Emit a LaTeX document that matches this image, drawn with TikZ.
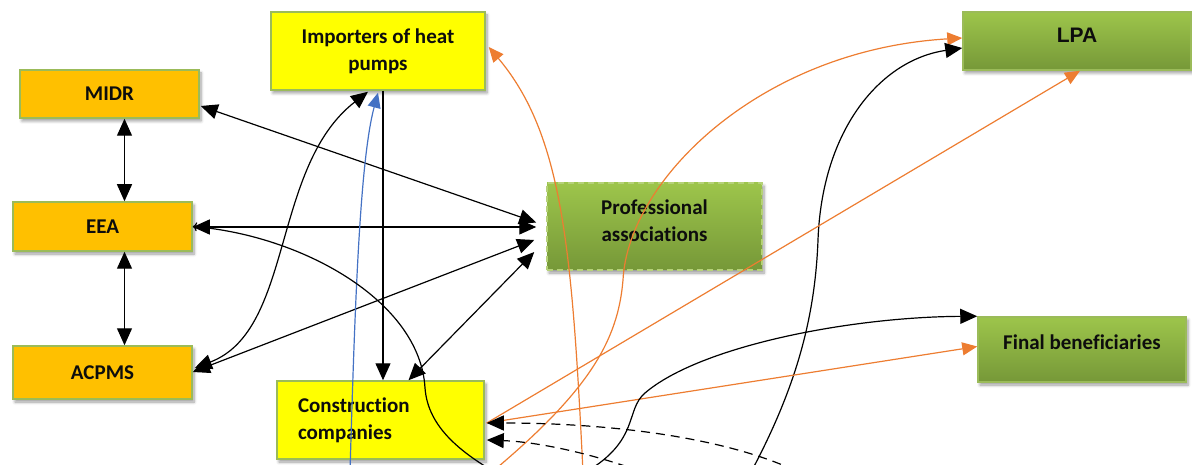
\documentclass[tikz,border=0pt]{standalone}
\usepackage{fontspec}
\setmainfont{Carlito}[RawFeature=-liga]
\newfontfamily\arialfont{Liberation Sans}
\usetikzlibrary{arrows.meta,calc,shadows.blur}
\definecolor{amber}{RGB}{255,192,0}
\definecolor{lemon}{RGB}{255,255,0}
\definecolor{leafedge}{RGB}{155,187,89}
\definecolor{leafdash}{RGB}{181,209,120}
\definecolor{leaftop}{RGB}{157,197,75}
\definecolor{leafbot}{RGB}{118,152,56}
\definecolor{orangeline}{RGB}{237,125,49}
\definecolor{blueline}{RGB}{68,114,196}
\begin{document}
\begin{tikzpicture}[x=1pt,y=-1pt,
  box/.style={draw=leafedge, line width=1.5pt, inner sep=0pt,
    blur shadow={shadow xshift=2pt, shadow yshift=-3pt, shadow blur radius=3pt, shadow blur steps=6, shadow opacity=40},
    font=\fontsize{21}{27}\selectfont\bfseries, text=black!95},
  amberbox/.style={box, fill=amber},
  lemonbox/.style={box, fill=lemon},
  leafbox/.style={box, top color=leaftop, bottom color=leafbot},
  lbl/.style={font=\fontsize{21}{27}\selectfont\bfseries, text=black!95, align=center, inner sep=0pt},
  one/.style={draw=black, line width=1.2pt, -{Triangle[length=17pt,width=15pt]}},
  two/.style={draw=black, line width=1.2pt, {Triangle[length=17pt,width=15pt]}-{Triangle[length=17pt,width=15pt]}},
  dash1/.style={one, dash pattern=on 9pt off 6pt},
  orng/.style={draw=orangeline, line width=1.2pt, -{Triangle[length=15pt,width=13pt]}},
  blu/.style={draw=blueline, line width=1.2pt, -{Triangle[length=15pt,width=13pt]}},
]
\useasboundingbox (0,0) rectangle (1192,465);
\clip (0,0) rectangle (1192,465);

% actors
\node[amberbox, minimum width=179pt, minimum height=48pt] (midr) at (109.5,94) {MIDR};
\node[amberbox, minimum width=179pt, minimum height=49pt] (eea) at (102.5,226.5) {EEA};
\node[amberbox, minimum width=179pt, minimum height=53pt] (acpms) at (102.5,372.5) {ACPMS};
\node[lemonbox, minimum width=214pt, minimum height=78pt, align=center] (imp) at (378,51) {Importers of heat\\pumps};
\node[lemonbox, minimum width=207pt, minimum height=78pt, text width=165pt, align=left] (cc) at (380.5,420) {Construction\\companies};
\node[leafbox, draw=leafdash, dash pattern=on 6pt off 4pt, minimum width=215pt, minimum height=87pt] (pa) at (654.5,226.5) {};
\node[lbl] (pa-t) at (654.5,221) {Professional\\associations};
\node[leafbox, minimum width=228pt, minimum height=58pt] (lpa) at (1077,41) {};
\node[lbl, font=\fontsize{21}{27}\selectfont\bfseries\arialfont] (lpa-t) at (1077,35.5) {LPA};
\node[leafbox, minimum width=208pt, minimum height=65pt] (fb) at (1082,349.5) {};
\node[lbl] (fb-t) at (1082,342) {Final beneficiaries};

% loose ends below the frame
\coordinate (b-blue) at (350,472);
\coordinate (b-eea) at (505,478);
\coordinate (b-imp) at (583,472);
\coordinate (b-lpa1) at (492,472);
\coordinate (b-fb) at (586,472);
\coordinate (b-lpa2) at (750,474);
\coordinate (b-d1) at (808,477);
\coordinate (b-d2) at (655,477);

% ministries column
\draw[two] ($(midr.south)+(15,0)$) -- ($(eea.north)+(22,0)$);
\draw[two] ($(eea.south)+(22,0)$) -- ($(acpms.north)+(22,0)$);

% links to the professional associations
\draw[two] ($(midr.east)+(1,12)$) -- ($(pa.west)+(-10,-4)$);
\draw[two] ($(eea.east)+(0,0.5)$) -- ($(pa.west)+(-10,0.5)$);
\draw[two] ($(acpms.east)+(0,-0.5)$) -- ($(pa.west)+(-12,13.5)$);
\draw[two] ($(cc.north)+(28,0)$) -- ($(pa.west)+(-12,25.5)$);

% importers
\draw[one] ($(imp.south)+(5,0)$) -- ($(cc.north)+(2.5,0)$);
\draw[two] ($(acpms.east)+(2,-4.5)$) .. controls (294,330) and (271,167) .. ($(imp.south)+(-10,1)$);
\draw[blu] (b-blue) .. controls (355,300) and (360,160) .. ($(imp.south)+(0,2)$);
\draw[orng] (b-imp) .. controls (572,250) and (563,135) .. ($(imp.east)+(3,-4)$);

% long curve from EEA
\draw[one, <-] (eea.east) .. controls (300,235) and (420,300) .. (425,388)
  .. controls (428,428) and (462,454) .. (b-eea);

% towards the local authority
\draw[orng] (b-lpa1) .. controls (590,390) and (618,340) .. (623,280)
  .. controls (628,180) and (760,50) .. ($(lpa.west)+(0,-3)$);
\draw[one] (b-lpa2) .. controls (795,390) and (815,320) .. (818,240)
  .. controls (822,130) and (880,60) .. ($(lpa.west)+(0,7)$);
\draw[orng] ($(cc.east)+(2,3)$) -- ($(lpa.south)+(3,0)$);

% towards the final beneficiaries
\draw[orng] ($(cc.east)+(2,3)$) -- ($(fb.west)+(0,-3)$);
\draw[one] (b-fb) .. controls (640,440) and (625,410) .. (645,393)
  .. controls (700,346) and (850,317) .. (fb.north west);

% dashed inflows into construction companies
\draw[dash1] (b-d1) .. controls (740,440) and (620,423) .. ($(cc.east)+(2,3)$);
\draw[dash1] (b-d2) .. controls (600,455) and (540,442) .. ($(cc.east)+(2,20)$);
\end{tikzpicture}
\end{document}
